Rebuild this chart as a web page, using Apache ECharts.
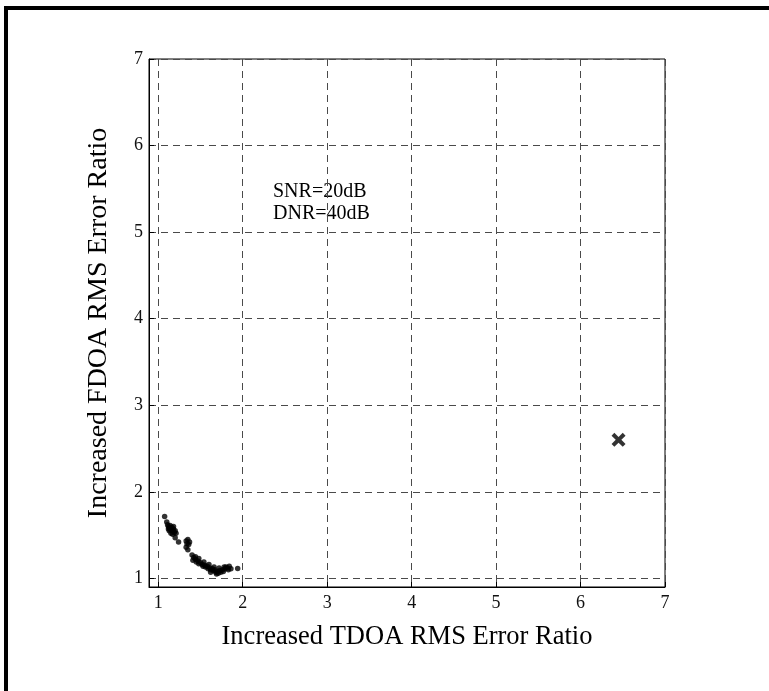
<!DOCTYPE html>
<html>
<head>
<meta charset="utf-8">
<script src="https://cdn.jsdelivr.net/npm/echarts@6/dist/echarts.min.js"></script>
<style>html,body{margin:0;padding:0;background:#fff;}#c{width:769px;height:691px;}</style>
</head>
<body>
<div id="c"></div>
<script>
// Data
const xTicks = [1, 2, 3, 4, 5, 6, 7];
const yTicks = [1, 2, 3, 4, 5, 6, 7];
const xName = 'Increased TDOA RMS Error Ratio';
const yName = 'Increased FDOA RMS Error Ratio';
const noteLines = ['SNR=20dB', 'DNR=40dB'];
const clusterPoints = [
  [1.075, 1.715], [1.10, 1.65], [1.11, 1.62], [1.12, 1.60], [1.13, 1.58], [1.14, 1.61],
  [1.15, 1.56], [1.16, 1.59], [1.17, 1.55], [1.18, 1.57], [1.19, 1.53], [1.20, 1.55],
  [1.13, 1.55], [1.15, 1.52], [1.17, 1.51], [1.21, 1.52], [1.12, 1.57], [1.18, 1.60],
  [1.20, 1.47], [1.24, 1.42],
  [1.33, 1.43], [1.35, 1.45], [1.37, 1.42], [1.34, 1.40], [1.36, 1.39], [1.33, 1.36], [1.35, 1.33],
  [1.40, 1.27], [1.42, 1.24], [1.41, 1.21], [1.44, 1.22], [1.45, 1.19], [1.47, 1.20],
  [1.48, 1.17], [1.50, 1.18], [1.52, 1.16], [1.53, 1.14], [1.55, 1.15], [1.56, 1.13],
  [1.58, 1.14], [1.59, 1.11], [1.61, 1.12], [1.62, 1.10], [1.64, 1.11], [1.65, 1.09],
  [1.67, 1.10], [1.68, 1.07], [1.70, 1.08], [1.71, 1.06], [1.73, 1.09], [1.74, 1.07],
  [1.76, 1.10], [1.77, 1.08], [1.79, 1.11], [1.80, 1.13], [1.82, 1.12], [1.84, 1.14],
  [1.83, 1.10], [1.78, 1.13], [1.72, 1.12], [1.66, 1.13], [1.60, 1.16], [1.54, 1.19],
  [1.48, 1.23], [1.44, 1.25], [1.62, 1.07], [1.69, 1.05],
  [1.86, 1.11], [1.94, 1.115]
];
const outlierPoint = [[6.45, 2.60]];

const FONT = '"Liberation Serif", "Times New Roman", serif';
const gridLine = { show: true, lineStyle: { color: '#4a4a4a', width: 1, type: [7, 5] } };

const chart = echarts.init(document.getElementById('c'), null, { renderer: 'canvas' });
chart.setOption({
  backgroundColor: '#fff',
  animation: false,
  textStyle: { fontFamily: FONT },
  grid: { left: 149, top: 59, right: 104, bottom: 104, show: true, borderColor: '#000', borderWidth: 1 },
  xAxis: {
    type: 'value', min: 0.89, max: 7,
    name: xName, nameLocation: 'middle', nameGap: 37,
    nameTextStyle: { fontFamily: FONT, fontSize: 26.5, color: '#000' },
    axisLine: { show: true, lineStyle: { color: '#000', width: 1 } },
    axisTick: { show: true, inside: true, length: 5, customValues: xTicks, lineStyle: { color: '#000' } },
    axisLabel: { customValues: xTicks, fontFamily: FONT, fontSize: 18, color: '#111', margin: 7 },
    splitLine: gridLine
  },
  yAxis: {
    type: 'value', min: 0.9, max: 7,
    name: yName, nameLocation: 'middle', nameGap: 36,
    nameTextStyle: { fontFamily: FONT, fontSize: 28, color: '#000' },
    axisLine: { show: true, lineStyle: { color: '#000', width: 1 } },
    axisTick: { show: true, inside: true, length: 5, customValues: yTicks, lineStyle: { color: '#000' } },
    axisLabel: { customValues: yTicks, fontFamily: FONT, fontSize: 18, color: '#111', margin: 6 },
    splitLine: gridLine
  },
  graphic: [
    { type: 'rect', left: 4, top: 6, shape: { width: 4, height: 685 }, style: { fill: '#000' } },
    { type: 'rect', left: 4, top: 6, shape: { width: 765, height: 4 }, style: { fill: '#000' } },
    { type: 'text', left: 273, top: 181, style: { text: noteLines.join('\n'), font: '20px ' + FONT, fill: '#000', lineHeight: 22 } }
  ],
  series: [
    {
      type: 'scatter', data: clusterPoints, symbol: 'circle', symbolSize: 5.5,
      itemStyle: { color: '#000' }
    },
    {
      type: 'scatter', data: outlierPoint,
      symbol: 'path://M0,2 L2,0 L5,3 L8,0 L10,2 L7,5 L10,8 L8,10 L5,7 L2,10 L0,8 L3,5 Z',
      symbolSize: 14, itemStyle: { color: '#000' }
    }
  ]
});
</script>
</body>
</html>
